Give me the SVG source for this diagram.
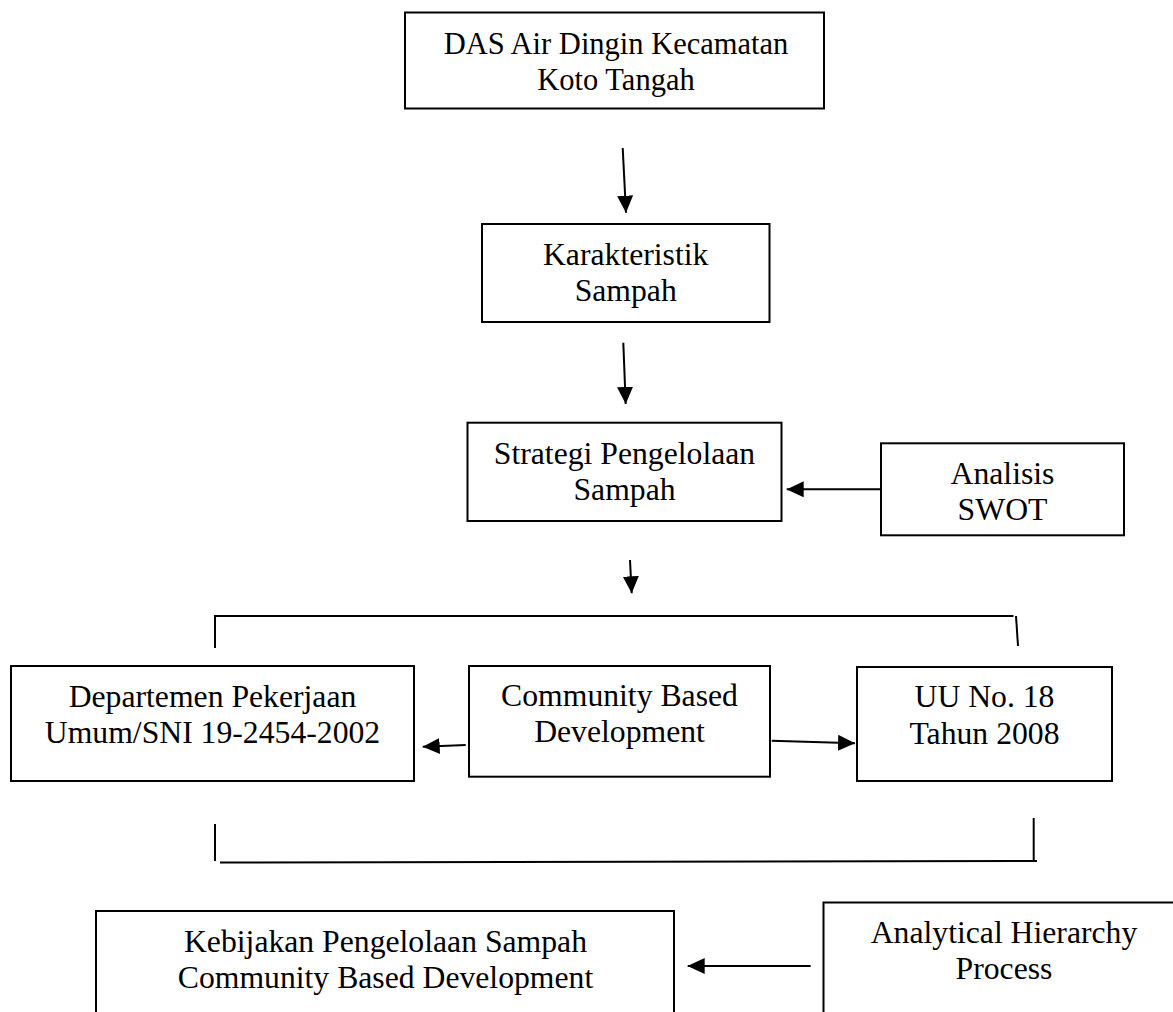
<svg xmlns="http://www.w3.org/2000/svg" width="1173" height="1012" viewBox="0 0 1173 1012">
<style>
.box{fill:#fff;stroke:#000;stroke-width:2}
.t{font-family:"Liberation Serif","Times New Roman",serif;font-size:31.7px;fill:#000;text-anchor:middle}
.c{fill:none;stroke:#000;stroke-width:2}
</style>
<defs>
<marker id="ah" markerUnits="userSpaceOnUse" markerWidth="17" markerHeight="16" viewBox="0 0 17 16" refX="17" refY="8" orient="auto">
<path d="M0,0 L17,8 L0,16 z" fill="#000"/>
</marker>
</defs>
<rect width="1173" height="1012" fill="#fff"/>
<g id="n-das"><rect class="box" x="405" y="12.5" width="419" height="96"/><text class="t" x="616" y="54" style="font-size:30.5px">DAS Air Dingin Kecamatan</text><text class="t" x="616" y="90" style="font-size:30.5px">Koto Tangah</text></g>
<g id="n-karakteristik"><rect class="box" x="482" y="224" width="287.5" height="98"/><text class="t" x="625.7" y="265">Karakteristik</text><text class="t" x="625.7" y="301">Sampah</text></g>
<g id="n-strategi"><rect class="box" x="467.5" y="422.7" width="314" height="98.3"/><text class="t" x="624.5" y="464">Strategi Pengelolaan</text><text class="t" x="624.5" y="499.5">Sampah</text></g>
<g id="n-swot"><rect class="box" x="881" y="443.3" width="243" height="92"/><text class="t" x="1002.5" y="484">Analisis</text><text class="t" x="1002.5" y="520">SWOT</text></g>
<g id="n-departemen"><rect class="box" x="11" y="666" width="403" height="115"/><text class="t" x="212.5" y="707">Departemen Pekerjaan</text><text class="t" x="212.5" y="743">Umum/SNI 19-2454-2002</text></g>
<g id="n-community"><rect class="box" x="469" y="666" width="301" height="110.7"/><text class="t" x="619.5" y="706">Community Based</text><text class="t" x="619.5" y="742">Development</text></g>
<g id="n-uu"><rect class="box" x="857" y="667" width="255" height="114"/><text class="t" x="984.5" y="707">UU No. 18</text><text class="t" x="984.5" y="744">Tahun 2008</text></g>
<g id="n-kebijakan"><rect class="box" x="96" y="911" width="578" height="150"/><text class="t" x="385.5" y="952">Kebijakan Pengelolaan Sampah</text><text class="t" x="385.5" y="988">Community Based Development</text></g>
<g id="n-ahp"><rect class="box" x="823.5" y="902.5" width="380" height="150"/><text class="t" x="1004" y="943">Analytical Hierarchy</text><text class="t" x="1004" y="979">Process</text></g>
<g id="connectors">
<line class="c" x1="622.7" y1="148" x2="626" y2="212.7" marker-end="url(#ah)"/>
<line class="c" x1="623.3" y1="342.7" x2="625.7" y2="404" marker-end="url(#ah)"/>
<line class="c" x1="881" y1="489.3" x2="786.7" y2="489.3" marker-end="url(#ah)"/>
<line class="c" x1="630" y1="560" x2="631.7" y2="593.3" marker-end="url(#ah)"/>
<line class="c" x1="465.7" y1="745" x2="422.7" y2="746.7" marker-end="url(#ah)"/>
<line class="c" x1="771.7" y1="740.7" x2="855" y2="743.3" marker-end="url(#ah)"/>
<line class="c" x1="810.7" y1="966" x2="687.7" y2="966" marker-end="url(#ah)"/>
<polyline class="c" points="215,648 215,616 1013.5,616"/>
<line class="c" x1="1016" y1="616" x2="1018" y2="646"/>
<line class="c" x1="215" y1="824" x2="215" y2="861"/>
<line class="c" x1="220" y1="862.5" x2="1037" y2="861"/>
<line class="c" x1="1033.7" y1="818" x2="1033.7" y2="861"/>
</g>
</svg>
